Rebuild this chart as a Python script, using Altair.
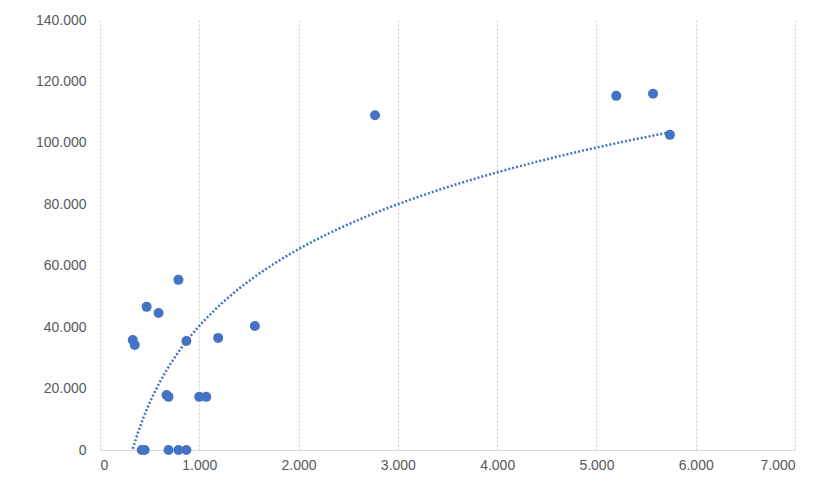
import pandas as pd
import altair as alt

xs = [330, 350, 420, 450, 470, 590, 670, 690, 690, 790, 790, 870, 870,
      1000, 1070, 1190, 1560, 2770, 5200, 5570, 5740]
ys = [35800, 34200, 0, 0, 46600, 44600, 17900, 17300, 0, 55400, 0, 35500, 0,
      17300, 17300, 36500, 40400, 109000, 115300, 116000, 102600]

df = pd.DataFrame({'x': xs, 'y': ys})

label_expr = "replace(format(datum.value, ',.0f'), ',', '.')"

x_enc = alt.X('x:Q', scale=alt.Scale(domain=[0, 7000], nice=False),
              axis=alt.Axis(values=list(range(0, 7001, 1000)), labelExpr=label_expr,
                            grid=True, gridDash=[2, 2], gridColor='#cfcfcf',
                            domainColor='#d9d9d9', ticks=False, title=None,
                            labelPadding=8))
y_enc = alt.Y('y:Q', scale=alt.Scale(domain=[0, 140000], nice=False),
              axis=alt.Axis(values=list(range(0, 140001, 20000)), labelExpr=label_expr,
                            grid=False, domain=False, ticks=False, title=None,
                            labelPadding=14))

points = alt.Chart(df).mark_circle(size=100, color='#4472C4', opacity=1).encode(x=x_enc, y=y_enc)

trend = alt.Chart(df).transform_regression('x', 'y', method='log').mark_line(
    color='#4472C4', strokeDash=[2, 2], strokeWidth=2.5, clip=True
).encode(x='x:Q', y='y:Q')

chart = alt.layer(trend, points).properties(
    width=695, height=430,
    autosize=alt.AutoSizeParams(type='none'),
    padding={'left': 92, 'top': 12, 'right': 19, 'bottom': 30}
).configure_view(stroke=None).configure_axis(
    labelFont='Liberation Sans', labelFontSize=14, labelColor='#595959'
)

chart.save("out.html", embed_options={"renderer": "svg", "actions": False})
